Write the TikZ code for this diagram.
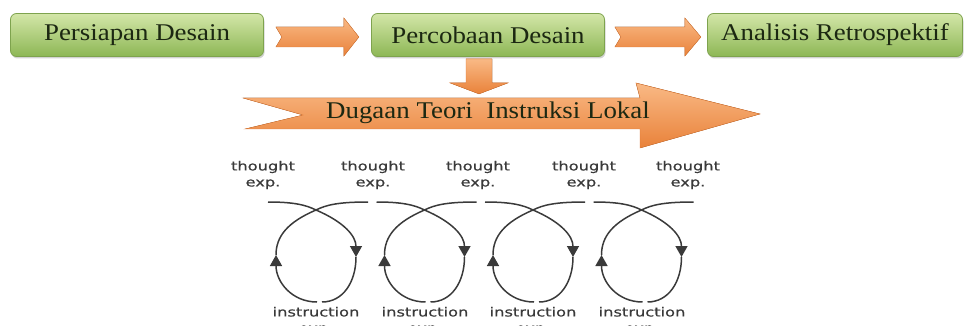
\documentclass[tikz,border=0pt]{standalone}
\usepackage{fontspec}
\setmainfont{Liberation Serif}[FakeStretch=1.12]
\newfontfamily\loopfont{DejaVu Sans}[FakeStretch=1.3, FakeBold=0.6]
\usepackage{tikz}
\usetikzlibrary{positioning, calc, arrows.meta, shadows}
\usepackage{xcolor}
\definecolor{boxtop}{HTML}{D3E6A8}
\definecolor{boxbot}{HTML}{8DB755}
\definecolor{boxline}{HTML}{7EA34E}
\definecolor{boxtext}{HTML}{1C2812}
\definecolor{arrtop}{HTML}{F9B985}
\definecolor{arrbot}{HTML}{E9823A}
\definecolor{arrline}{HTML}{E07A34}
\definecolor{loopgray}{HTML}{3A3A3A}

\begin{document}
\begin{tikzpicture}[x=1pt, y=-1pt,
  stagebox/.style={rounded corners=6pt, draw=boxline, line width=0.8pt,
    top color=boxtop, bottom color=boxbot, minimum height=43pt,
    text=boxtext, font=\fontsize{24}{28}\selectfont,
    drop shadow={shadow xshift=1pt, shadow yshift=-2pt, opacity=0.35}},
  fatarrow/.style={top color=arrtop, bottom color=arrbot, draw=arrline, line width=0.4pt},
  loopline/.style={draw=loopgray, line width=1.5pt},
  looptip/.style={-{Triangle[width=12pt,length=11pt]}},
  looplabel/.style={text=loopgray, align=center, inner sep=0pt,
    font=\loopfont\fontsize{12.5}{16}\selectfont}]

\useasboundingbox (0,0) rectangle (967,326);

% Three stages
\node[stagebox, minimum width=253pt] (prep) at (137,35) {Persiapan Desain};
\node[stagebox, minimum width=233pt] (trial) at (488,35) {Percobaan Desain};
\node[stagebox, minimum width=255pt] (retro) at (835,35) {Analisis Retrospektif};

% Arrows between the stages
\coordinate (a1) at ($(prep.east)+(12,2)$);
\filldraw[fatarrow] (a1) ++(0,-10) -- ++(68,0) -- ++(0,-9) -- ++(15,19)
  -- ++(-15,19) -- ++(0,-9) -- ++(-68,0) -- ++(6,-10) -- cycle;
\coordinate (a2) at ($(trial.east)+(10,2)$);
\filldraw[fatarrow] (a2) ++(0,-10) -- ++(70,0) -- ++(0,-9) -- ++(16,19)
  -- ++(-16,19) -- ++(0,-9) -- ++(-70,0) -- ++(6,-10) -- cycle;

% Down arrow
\coordinate (d1) at ($(trial.south)+(-9,2)$);
\filldraw[fatarrow] (d1) ++(-13,0) -- ++(26,0) -- ++(0,24) -- ++(16,0)
  -- ++(-29,11) -- ++(-29,-11) -- ++(16,0) -- cycle;

% Big arrow
\coordinate (bigtail) at (243,98);
\filldraw[fatarrow] (bigtail) -- ++(397,0) -- ++(-4,-15) -- (760,114)
  -- (640,148) -- ++(0,-19) -- (245,129) -- (303,115) -- cycle;
\node[text=boxtext, font=\fontsize{24}{28}\selectfont] (hlt) at (488,113)
  {Dugaan Teori\ \ Instruksi Lokal};

% Labels
\foreach \x [count=\i] in {263,373,478,584,688}
  \node[looplabel] (th\i) at (\x,175) {thought\\exp.};
\foreach \x [count=\i] in {316,425,533,642}
  \node[looplabel] (ins\i) at (\x,321) {instruction\\exp.};

% Cycles
\foreach \c [count=\i] in {316,424.5,533,641.5} {
  \coordinate (top\i) at (\c,210);
  \coordinate (rs\i) at (\c+40,257);
  \coordinate (ls\i) at (\c-40,255);
  % down the right side
  \draw[loopline, looptip] (\c-48,202) .. controls (\c-22,202) and (\c-10,205) .. (top\i)
    .. controls (\c+28,222) and (\c+40,236) .. (rs\i);
  \draw[loopline] (rs\i) .. controls (\c+40,282) and (\c+27,302) .. (\c+6,302);
  % up the left side
  \draw[loopline, looptip] (\c+1,302) .. controls (\c-24,302) and (\c-40,282) .. (ls\i);
  \draw[loopline] (ls\i) .. controls (\c-40,236) and (\c-28,222) .. (top\i)
    .. controls (\c+10,205) and (\c+22,202) .. (\c+52,202);
}

\end{tikzpicture}
\end{document}
